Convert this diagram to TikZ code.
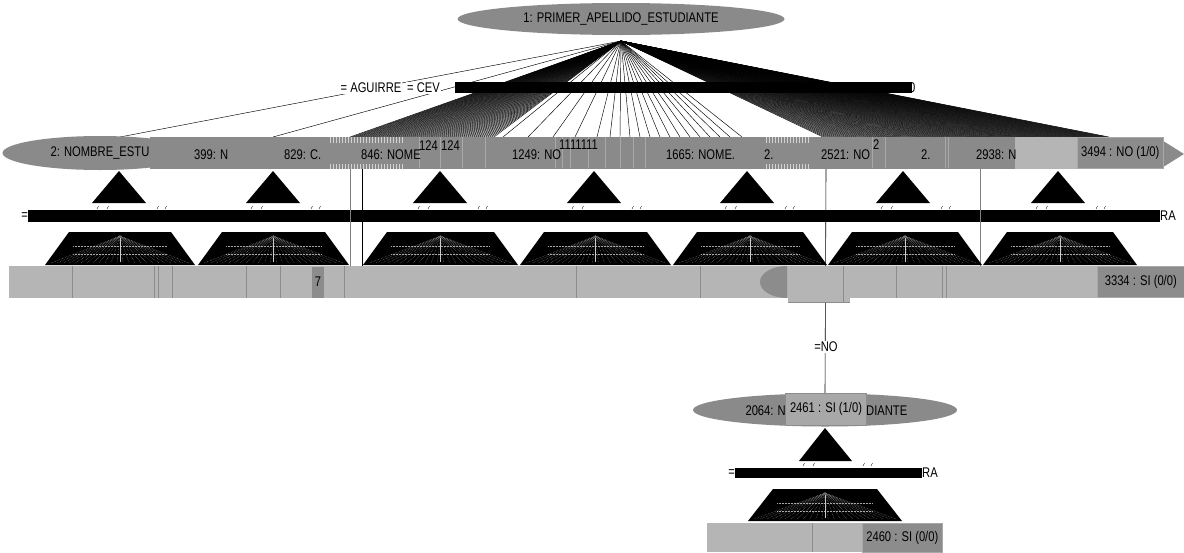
\documentclass[tikz,border=0pt]{standalone}
\usepackage{fontspec}
\setmainfont{Liberation Sans}[FakeStretch=0.8]
\usetikzlibrary{shapes.geometric,positioning}

\definecolor{splitgray}{RGB}{138,138,138}
\definecolor{leafgray}{RGB}{181,181,181}
\definecolor{tipgray}{RGB}{140,140,140}
\definecolor{seamgray}{RGB}{168,168,168}

\begin{document}
\begin{tikzpicture}[x=1pt, y=-1pt,
  every node/.style={font=\fontsize{14}{14}\selectfont, inner sep=1pt},
  split/.style={ellipse, fill=splitgray, inner sep=0pt},
  leafbox/.style={fill=tipgray, draw=seamgray, line width=0.6pt,
                  minimum height=31pt, inner sep=2pt},
  edgelbl/.style={fill=white, inner sep=1pt},
  fanline/.style={line width=0.45pt},
  speckle/.style={gray, densely dotted, line width=0.5pt},
]
\useasboundingbox (0,0) rectangle (1184,552);

%% Root split
\node[split, minimum width=327pt, minimum height=32pt] (root) at (621,19)
  {1: PRIMER\_APELLIDO\_ESTUDIANTE};
\coordinate (apex) at (621,41);

%% Branches out of the root
\coordinate (c2) at (120,137);
\coordinate (c399) at (273,137);
\draw[fanline] (apex) -- (c2);
\draw[fanline] (apex) -- (c399);
\foreach \t in {350,352,...,494} {
  \coordinate (ct) at (\t,137);
  \draw[fanline] (apex) -- (ct);
}
\foreach \t in {503,528,553,575,597,610,620,630,640,650,660,670,680,690,700,710,720,730,742} {
  \coordinate (ct) at (\t,137);
  \draw[fanline] (apex) -- (ct);
}
\foreach \t in {823,825,...,1110} {
  \coordinate (ct) at (\t,137);
  \draw[fanline] (apex) -- (ct);
}

%% Branch values
\node[edgelbl] (eagu) at (371,88) {= AGUIRRE};
\node[edgelbl, anchor=west] (ecev) at (406,88) {= CEV};
\fill (455,82) rectangle (912,93);
\node[anchor=west, inner sep=0pt] (eend) at (909,88) {0};

%% Second level: overlapping split nodes
\fill[splitgray] (150,137) rectangle (1163,169);
\fill[splitgray] (1160,139) -- (1184,154) -- (1160,169) -- cycle;
\node[split, minimum width=195pt, minimum height=34pt] (n2) at (100,153)
  {2: NOMBRE\_ESTU};
\foreach \x in {330,333,...,402,766,769,...,810} {
  \draw[seamgray!50!white, line width=0.4pt] (\x,137) -- (\x,143);
  \draw[seamgray!50!white, line width=0.4pt] (\x,164) -- (\x,169);
}
\foreach \x in {419,440,462,485,555,562,570,588,605,620,633,645,872,885,945,948} {
  \draw[seamgray, line width=0.6pt] (\x,137) -- (\x,168);
}
\fill[leafgray] (1015,137) rectangle (1077,169);
\node[leafbox, minimum width=86pt, anchor=west] (l3494) at (1077,153)
  {3494 : NO (1/0)};

\node[anchor=west] (n399) at (193,155) {399: N};
\node[anchor=west] (n829) at (283,155) {829: C.};
\node[anchor=west] (n846) at (360,155) {846: NOME};
\node[anchor=west] (n1241) at (418,146) {124};
\node[anchor=west] (n1242) at (440,146) {124};
\node[anchor=west] (n1249) at (511,155) {1249: NO};
\node[anchor=west] (n1111) at (558,145) {1111111};
\node[anchor=west] (n1665) at (665,155) {1665: NOME.};
\node[anchor=west] (n23) at (763,155) {2.};
\node[anchor=west] (n2521) at (820,155) {2521: NO};
\node[anchor=west] (n25) at (872,145) {2};
\node[anchor=west] (n26) at (920,155) {2.};
\node[anchor=west] (n2938) at (975,155) {2938: N};

%% Collapsed subtrees
\foreach \x in {119,273,440,594,747,903,1058} {
  \fill (\x,171) -- ({\x+27},203) -- ({\x-27},203) -- cycle;
  \foreach \d in {-22,-12,38,46}
    \draw[line width=0.4pt] ({\x+\d},209) -- ({\x+\d+1.5},206);
}

%% Third level values
\fill (28,210) rectangle (1160,222);
\node[anchor=east, inner sep=0pt] (vleft) at (28,216) {=};
\node[anchor=west, inner sep=0pt] (vright) at (1160,216) {RA};

%% Straight edges down to the leaves
\coordinate (s350) at (350,169);  \coordinate (e350) at (350,266);
\coordinate (s362) at (362,169);  \coordinate (e362) at (362,266);
\coordinate (s980) at (980,169);  \coordinate (e980) at (980,266);
\coordinate (s826) at (826,169);
\draw[gray, line width=0.6pt] (s350) -- (e350);
\draw[line width=0.6pt] (s362) -- (e362);
\draw[gray, line width=1pt] (s980) -- (e980);

%% Fourth level: fans of leaves
\foreach \l/\r in {45/195,198/349,363/518,520/671,673/827,828/982,983/1137} {
  \fill (\l,265) -- ({\l+24},232) -- ({\r-24},232) -- (\r,265) -- cycle;
  \foreach \k in {0.04,0.08,...,0.97}
    \draw[speckle] ({(\l+\r)/2},236) -- ({\l+\k*(\r-\l)},263);
  \foreach \yy in {246,254}
    \draw[speckle, gray!70] ({\l+28},\yy) -- ({\r-28},\yy);
  \draw[gray!40, line width=0.8pt] ({(\l+\r)/2},238) -- ({(\l+\r)/2},262);
}

%% Lower subtree hanging from 2521
\node[split, minimum width=264pt, minimum height=33pt] (n2064) at (825,410) {};
\draw[line width=0.6pt] (s826) -- (n2064.north);
\node[edgelbl] (eno) at (826,347) {=NO};

%% Leaf row
\fill[leafgray] (9,266) rectangle (1184,298);
\foreach \x in {72,154,158,172,246,280,344,576,700,896,942,946}
  \draw[tipgray, line width=1pt] (\x,266) -- (\x,298);
\fill[tipgray] (787,266) arc[start angle=270, end angle=90, x radius=27, y radius=16] -- cycle;
\fill[leafgray] (788,266) rectangle (850,302);
\draw[tipgray, line width=0.8pt] (788,302) -- (850,302);
\draw[tipgray, line width=1pt] (843,266) -- (843,302);
\node[fill=tipgray, minimum width=12pt, minimum height=31pt, inner sep=0pt]
  (l7) at (318,282) {7};
\node[leafbox, minimum width=87pt, anchor=west] (l3334) at (1097,282)
  {3334 : SI (0/0)};

%% Lower subtree contents
\node[anchor=east] (t2064) at (787,411) {2064: N};
\node[anchor=west] (t2064b) at (865,411) {DIANTE};
\node[fill=seamgray, draw=tipgray, line width=0.6pt, minimum width=81pt,
      minimum height=32pt, inner sep=1pt] (l2461) at (826,409) {2461 : SI (1/0)};
\fill (825,428) -- (852,461) -- (799,461) -- cycle;
\foreach \d in {-22,-12,38,46}
  \draw[line width=0.4pt] ({825+\d},466) -- ({825+\d+1.5},463);
\fill (735,468) rectangle (922,478);
\node[anchor=east, inner sep=0pt] (wleft) at (735,473) {=};
\node[anchor=west, inner sep=0pt] (wright) at (922,473) {RA};
\fill (748,521) -- (773,489) -- (877,489) -- (902,521) -- cycle;
\foreach \k in {0.04,0.08,...,0.97}
  \draw[speckle] (825,493) -- ({748+\k*154},519);
\foreach \yy in {503,511}
  \draw[speckle, gray!70] (777,\yy) -- (873,\yy);
\draw[gray!40, line width=0.8pt] (825,495) -- (825,518);
\fill[leafgray] (707,523) rectangle (942,552);
\draw[tipgray, line width=1pt] (812,523) -- (812,552);
\node[leafbox, minimum width=80pt, minimum height=29pt, anchor=west] (l2460)
  at (862,537.5) {2460 : SI (0/0)};

\end{tikzpicture}
\end{document}
